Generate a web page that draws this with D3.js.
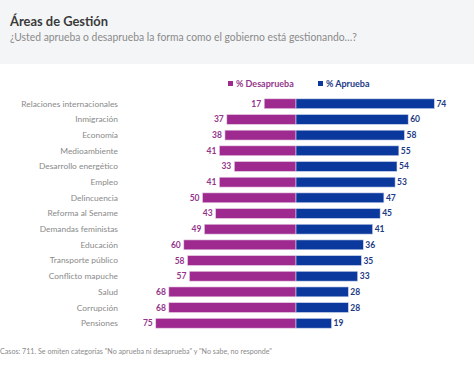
<!DOCTYPE html>
<html><head><meta charset="utf-8">
<script src="https://cdn.jsdelivr.net/npm/d3@7"></script>
<style>body{margin:0;background:#fff}svg{display:block}</style>
</head><body>
<svg id="c" width="474" height="365"></svg>
<script>
const categories = ["Relaciones internacionales","Inmigración","Economía","Medioambiente","Desarrollo energético","Empleo","Delincuencia","Reforma al Sename","Demandas feministas","Educación","Transporte público","Conflicto mapuche","Salud","Corrupción","Pensiones"];
const desaprueba = [17,37,38,41,33,41,50,43,49,60,58,57,68,68,75];
const aprueba = [74,60,58,55,54,53,47,45,41,36,35,33,28,28,19];
const seriesNames = ["% Desaprueba","% Aprueba"];
const title = "Áreas de Gestión";
const subtitle = "¿Usted aprueba o desaprueba la forma como el gobierno está gestionando…?";
const footnote = "Casos: 711. Se omiten categorías \"No aprueba ni desaprueba\" y \"No sabe, no responde\"";

const W=474,H=365;
const svg=d3.select("#c");
const font="Lato, 'Open Sans', sans-serif";
const magenta="#9e2a90", blue="#0a389c";
const magText="#94358c", blueText="#1d3a85";

svg.append("rect").attr("x",0).attr("y",0).attr("width",W).attr("height",64).attr("fill","#f4f5f7");
svg.append("text").attr("x",10).attr("y",26).attr("font-family",font).attr("font-weight","bold").attr("font-size",13.5).attr("fill","#3a3a3a")
  .attr("textLength",98).attr("lengthAdjust","spacingAndGlyphs").text(title);
svg.append("text").attr("x",10).attr("y",41).attr("font-family",font).attr("font-size",10.5).attr("fill","#8a8a8a")
  .attr("textLength",347).attr("lengthAdjust","spacingAndGlyphs").text(subtitle);

const cx=296;
const xL=d3.scaleLinear().domain([0,100]).range([cx,cx-187]);
const xR=d3.scaleLinear().domain([0,100]).range([cx,cx+187]);
const y=d3.scaleBand().domain(categories).range([96,331]).paddingInner(0.37).paddingOuter(0.18);

const g=svg.append("g");
categories.forEach((c,i)=>{
  const yy=y(c), h=y.bandwidth();
  g.append("rect").attr("x",xL(desaprueba[i])).attr("y",yy).attr("width",cx-xL(desaprueba[i])).attr("height",h)
    .attr("fill",magenta).attr("stroke","#e8d3e6").attr("stroke-width",0.6);
  g.append("rect").attr("x",cx).attr("y",yy).attr("width",xR(aprueba[i])-cx).attr("height",h)
    .attr("fill",blue).attr("stroke","#d3dbee").attr("stroke-width",0.6);
  g.append("text").attr("x",xL(desaprueba[i])-3).attr("y",yy+h/2).attr("dy","0.35em").attr("text-anchor","end")
    .attr("font-family",font).attr("font-weight","bold").attr("font-size",8.5).attr("fill",magText).text(desaprueba[i]);
  g.append("text").attr("x",xR(aprueba[i])+2).attr("y",yy+h/2).attr("dy","0.35em")
    .attr("font-family",font).attr("font-weight","bold").attr("font-size",8.5).attr("fill",blueText).text(aprueba[i]);
  g.append("text").attr("x",118).attr("y",yy+h/2).attr("dy","0.35em").attr("text-anchor","end")
    .attr("font-family",font).attr("font-size",8.4).attr("fill","#8a8a8a").text(c);
});

// legend
const leg=[{x:228,c:magenta,t:magText,n:seriesNames[0]},{x:318,c:blue,t:blueText,n:seriesNames[1]}];
leg.forEach(l=>{
  svg.append("rect").attr("x",l.x).attr("y",81).attr("width",5).attr("height",5).attr("fill",l.c);
  svg.append("text").attr("x",l.x+8).attr("y",87).attr("font-family",font).attr("font-weight","bold").attr("font-size",9).attr("fill",l.t).text(l.n);
});

svg.append("text").attr("x",0).attr("y",354).attr("font-family",font).attr("font-size",7).attr("fill","#8a8a8a")
  .attr("textLength",272).attr("lengthAdjust","spacingAndGlyphs").text(footnote);
</script>
</body></html>
